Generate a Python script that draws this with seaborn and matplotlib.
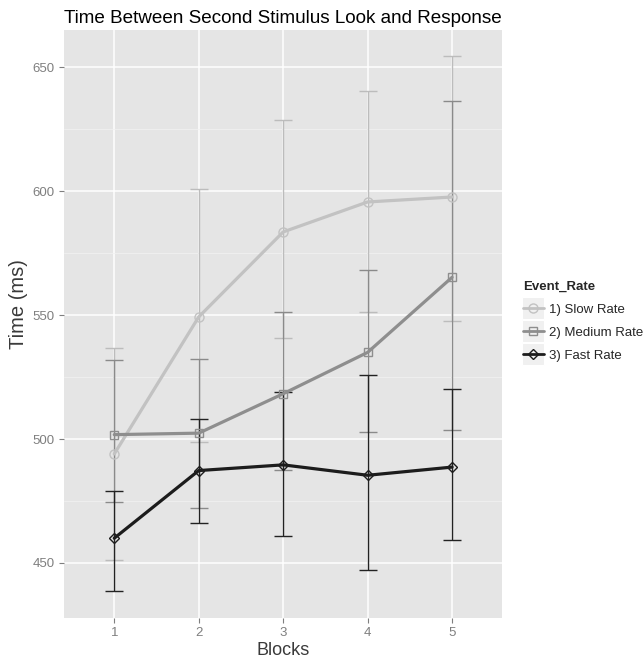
import numpy as np
import pandas as pd
import seaborn as sns
import matplotlib
matplotlib.use("Agg")
import matplotlib.pyplot as plt
from matplotlib.lines import Line2D
from matplotlib.patches import Rectangle
from matplotlib.ticker import MultipleLocator

# ---- data ----
blocks = [1, 2, 3, 4, 5]
rates = ["1) Slow Rate", "2) Medium Rate", "3) Fast Rate"]

slow_mean = [494.0, 549.3, 583.6, 595.7, 597.7]
slow_lo = [451.4, 498.9, 540.7, 551.4, 547.7]
slow_hi = [536.9, 600.9, 628.8, 640.4, 654.5]

medium_mean = [501.8, 502.4, 518.3, 535.0, 565.3]
medium_lo = [474.7, 472.0, 487.5, 503.0, 503.8]
medium_hi = [531.9, 532.3, 551.4, 568.1, 636.4]

fast_mean = [460.0, 487.3, 489.6, 485.4, 488.7]
fast_lo = [438.7, 466.3, 460.9, 447.0, 459.3]
fast_hi = [479.1, 508.0, 518.9, 525.9, 520.2]

means = [slow_mean, medium_mean, fast_mean]
los = [slow_lo, medium_lo, fast_lo]
his = [slow_hi, medium_hi, fast_hi]

line_colors = ["#c2c2c2", "#8e8e8e", "#1c1c1c"]
err_colors = ["#bcbcbc", "#8a8a8a", "#222222"]
marker_styles = ["o", "s", "D"]
marker_sizes = [6.5, 5.8, 5.4]

df = pd.DataFrame({
    "Blocks": blocks * 3,
    "Time": slow_mean + medium_mean + fast_mean,
    "Event_Rate": [r for r in rates for _ in blocks],
})

sns.set_theme(style="darkgrid")
plt.rcParams["font.family"] = ["Liberation Sans", "DejaVu Sans"]

fig = plt.figure(figsize=(6.44, 6.58), dpi=100)
ax = fig.add_axes([64 / 644, 1 - 618 / 658, (501.5 - 64) / 644, (618 - 29.5) / 658])
ax.set_facecolor("#e5e5e5")

# error bars
for i in range(3):
    m = np.array(means[i]); lo = np.array(los[i]); hi = np.array(his[i])
    ax.errorbar(blocks, m, yerr=[m - lo, hi - m], fmt="none", ecolor=err_colors[i],
                elinewidth=1.0, capsize=6.3, capthick=1.0, zorder=2)

sns.lineplot(data=df, x="Blocks", y="Time", hue="Event_Rate", style="Event_Rate",
             palette=dict(zip(rates, line_colors)),
             markers=dict(zip(rates, marker_styles)), dashes=False,
             linewidth=2.3, markersize=6, markerfacecolor="none",
             legend=False, ax=ax, zorder=3)
for i, ln in enumerate(ax.lines[-3:]):
    ln.set_markeredgecolor(line_colors[i])
    ln.set_markerfacecolor("none")
    ln.set_markeredgewidth(1.0)
    ln.set_markersize(marker_sizes[i])

ax.set_xlim(0.405, 5.585)
ax.set_ylim(427.8, 665.3)
ax.set_xticks(blocks)
ax.set_xticklabels([str(b) for b in blocks])
ax.set_yticks([450, 500, 550, 600, 650])
ax.yaxis.set_minor_locator(MultipleLocator(25))
ax.grid(True, which="major", color="white", linewidth=1.1)
ax.grid(True, which="minor", axis="y", color="#f2f2f2", linewidth=0.55)
ax.set_axisbelow(True)
for s in ax.spines.values():
    s.set_visible(False)
ax.tick_params(axis="both", which="major", direction="out", length=3.5, width=0.8,
               color="#7f7f7f", labelcolor="#7f7f7f", labelsize=9.5, pad=3, left=True, bottom=True)
ax.tick_params(axis="y", which="minor", length=0)

ax.set_xlabel("Blocks", fontsize=13, color="#3a3a3a", labelpad=2)
ax.set_ylabel("Time (ms)", fontsize=14.5, color="#3a3a3a")
ax.yaxis.set_label_coords((28 - 64) / 437.5, (618 - 304) / 588.5)
ax.set_title("Time Between Second Stimulus Look and Response", fontsize=13.6, color="black", pad=5)

handles = [Line2D([0], [0], color=line_colors[i], lw=2.0, marker=marker_styles[i],
                  markerfacecolor="none", markeredgecolor=line_colors[i],
                  markersize=marker_sizes[i], markeredgewidth=1.0) for i in range(3)]
leg = fig.legend(handles, rates, title="Event_Rate", loc="upper left",
                 bbox_to_anchor=(520 / 644, 1 - 278 / 658), frameon=False,
                 fontsize=9.5, title_fontsize=9.5, handlelength=1.6, handletextpad=0.4,
                 labelspacing=0.82, borderaxespad=0, borderpad=0.2)
leg.get_title().set_fontweight("bold")
leg._legend_box.align = "left"

# grey key backgrounds behind the legend keys
fig.canvas.draw()
renderer = fig.canvas.get_renderer()
for h in leg.legend_handles:
    bb = h.get_window_extent(renderer)
    cx = (bb.x0 + bb.x1) / 2
    cy = (bb.y0 + bb.y1) / 2
    w, hgt = 22, 22
    rect = Rectangle(((cx - w / 2) / 644, (cy - hgt / 2) / 658), w / 644, hgt / 658,
                     transform=fig.transFigure, facecolor="#f0f0f0", edgecolor="white",
                     linewidth=0.8, zorder=1)
    fig.patches.append(rect)

fig.savefig("out.png", dpi=100)
